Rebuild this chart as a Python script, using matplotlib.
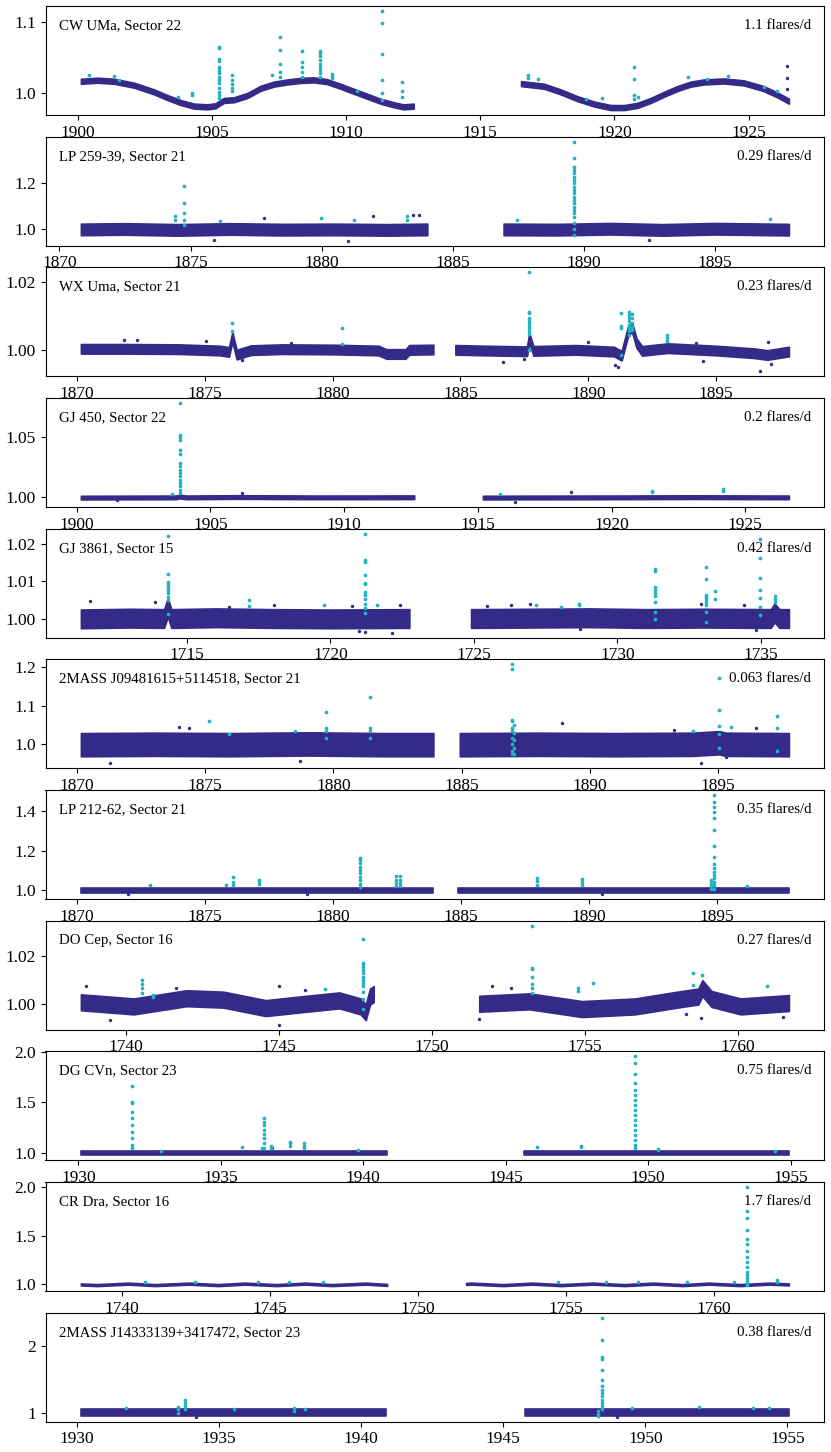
import matplotlib
matplotlib.use("Agg")
import matplotlib.pyplot as plt

plt.rcParams['font.family'] = ['Liberation Serif', 'DejaVu Serif']

PURPLE = '#352a87'
CYAN = '#1fb3c0'

# ---------------------------------------------------------------- CW UMa
cw_names = ("CW UMa, Sector 22", "1.1 flares/d")
cw_orbit1 = [(1900.12, 1.016), (1900.74, 1.0175), (1901.36, 1.016), (1902.11, 1.0104),
             (1902.85, 1.001), (1903.35, 0.993), (1903.84, 0.986), (1904.34, 0.981),
             (1904.83, 0.980), (1905.14, 0.9815), (1905.27, 0.985), (1905.45, 0.989),
             (1905.82, 0.990), (1906.32, 0.996), (1906.81, 1.006), (1907.31, 1.012),
             (1907.8, 1.015), (1908.3, 1.0172), (1908.8, 1.018), (1909.29, 1.0155),
             (1909.79, 1.009), (1910.28, 1.002), (1910.78, 0.995), (1911.28, 0.988),
             (1911.77, 0.983), (1912.14, 0.980), (1912.52, 0.981)]
cw_orbit2 = [(1916.52, 1.0127), (1917.38, 1.009), (1918.0, 1.001), (1918.62, 0.9915),
             (1919.24, 0.984), (1919.86, 0.979), (1920.36, 0.979), (1920.85, 0.982),
             (1921.35, 0.989), (1921.84, 0.9976), (1922.34, 1.0057), (1922.84, 1.012),
             (1923.33, 1.015), (1924.07, 1.0165), (1924.82, 1.0137), (1925.56, 1.0057),
             (1926.06, 0.997), (1926.5, 0.988)]
cw_noise = 0.0035
cw_flares = [(1900.43, [1.0245]), (1901.36, [1.023]), (1901.55, [1.0175]),
             (1903.72, [0.994]), (1904.27, [1.0, 0.996]),
             (1905.27, [1.0637, 1.0623, 1.048, 1.044, 1.036, 1.034, 1.031, 1.027, 1.022,
                        1.0175, 1.013, 1.007, 1.001, 0.996, 0.992]),
             (1905.76, [1.0245, 1.018, 1.0127, 1.007, 1.002]),
             (1907.25, [1.0245]),
             (1907.53, [1.0788, 1.060, 1.041, 1.029, 1.022]),
             (1908.36, [1.059, 1.0425, 1.036, 1.029, 1.0225]),
             (1909.02, [1.059, 1.0555, 1.051, 1.046, 1.041, 1.036, 1.032, 1.027, 1.0215]),
             (1909.46, [1.0265, 1.0235, 1.0205]), (1910.4, [1.003]),
             (1911.34, [1.115, 1.0987, 1.054, 1.0175, 0.9995, 0.989]),
             (1912.08, [1.0146, 1.003, 0.994]),
             (1916.79, [1.0245, 1.02]), (1917.14, [1.0198]), (1918.93, [0.9915]),
             (1919.52, [0.993]), (1920.71, [1.036, 1.0198, 0.996, 0.9915]),
             (1920.86, [0.994]), (1922.75, [1.022]), (1923.46, [1.0198]),
             (1924.24, [1.0233]), (1925.57, [1.008]), (1926.06, [1.003])]
cw_outliers = [(1926.43, 1.0378), (1926.43, 1.021), (1926.43, 1.0057)]
cw_xticks = [1900, 1905, 1910, 1915, 1920, 1925]
cw_yticks = [1.0, 1.1]
cw_ylabels = ["1.0", "1.1"]

# ---------------------------------------------------------------- LP 259-39
lp259_names = ("LP 259-39, Sector 21", "0.29 flares/d")
lp259_orbit1 = [(1870.82, 1.0), (1872.5, 1.002), (1874.5, 0.998), (1876.5, 1.002),
                (1878.5, 0.999), (1880.5, 1.0), (1882.5, 0.998), (1884.03, 1.0)]
lp259_orbit2 = [(1886.94, 1.0), (1889.0, 0.999), (1891.0, 1.003), (1893.0, 0.998),
                (1895.0, 1.003), (1897.82, 0.999)]
lp259_noise = 0.025
lp259_flares = [(1874.75, [1.19, 1.116, 1.07, 1.041, 1.019]), (1874.42, [1.059, 1.041]),
                (1876.13, [1.038]), (1879.96, [1.048]), (1881.23, [1.043]),
                (1883.25, [1.058, 1.04]), (1887.44, [1.04]),
                (1889.62, [1.381, 1.312, 1.272, 1.258, 1.243, 1.229, 1.214, 1.2, 1.186,
                           1.171, 1.156, 1.142, 1.128, 1.113, 1.099, 1.084, 1.07, 1.055,
                           1.03, 1.0, 0.975]),
                (1897.09, [1.045])]
lp259_outliers = [(1877.81, 1.051), (1881.96, 1.058), (1883.48, 1.062), (1883.73, 1.062),
                  (1875.9, 0.953), (1881.0, 0.951), (1892.5, 0.954)]
lp259_xticks = [1870, 1875, 1880, 1885, 1890, 1895]
lp259_yticks = [1.0, 1.2]
lp259_ylabels = ["1.0", "1.2"]

# ---------------------------------------------------------------- WX UMa
wx_names = ("WX Uma, Sector 21", "0.23 flares/d")
wx_orbit1 = [(1870.16, 1.0003), (1872.0, 1.0003), (1874.0, 1.0002), (1875.6, 0.9998),
             (1875.95, 0.9994), (1876.08, 1.0038), (1876.25, 0.9986), (1876.5, 0.9992),
             (1876.8, 0.9999), (1878.0, 1.0002), (1880.0, 1.0001), (1881.8, 0.9998),
             (1882.1, 0.9988), (1882.85, 0.9988), (1883.0, 1.0), (1883.94, 1.0001)]
wx_orbit2 = [(1884.8, 1.0), (1886.0, 0.9998), (1887.6, 0.9996), (1887.69, 1.0035),
             (1887.85, 0.9997), (1889.5, 1.0), (1891.0, 0.9995), (1891.3, 0.9983),
             (1891.57, 1.006), (1891.71, 1.0065), (1891.88, 1.002), (1892.1, 0.9997),
             (1893.1, 1.0005), (1895.0, 0.9998), (1896.5, 0.999), (1897.0, 0.9985),
             (1897.84, 0.9995)]
wx_noise = 0.0014
wx_flares = [(1876.08, [1.0078, 1.0054]), (1880.35, [1.0065, 1.0017]),
             (1887.69, [1.0227, 1.0112, 1.0107, 1.0093, 1.0085, 1.0078, 1.007, 1.0063,
                        1.0054, 1.0046, 0.9999]),
             (1891.26, [1.0107, 1.0071, 1.0063, 0.9985]),
             (1891.57, [1.0112, 1.0102, 1.0093, 1.0083, 1.0073, 1.0063, 1.0054, 1.0044]),
             (1891.71, [1.0105, 1.0093, 1.0078, 1.0068, 1.0059]),
             (1893.09, [1.0044, 1.0036, 1.0026])]
wx_outliers = [(1871.86, 1.0028), (1872.37, 1.003), (1875.05, 1.0026), (1878.37, 1.002),
               (1890.0, 1.0022), (1894.19, 1.002), (1897.01, 1.0022), (1886.66, 0.9964),
               (1891.03, 0.9956), (1891.15, 0.9951), (1894.5, 0.9966), (1896.72, 0.9937),
               (1897.13, 0.9958), (1876.45, 0.9971), (1887.48, 0.9974)]
wx_xticks = [1870, 1875, 1880, 1885, 1890, 1895]
wx_yticks = [1.00, 1.02]
wx_ylabels = ["1.00", "1.02"]

# ---------------------------------------------------------------- GJ 450
gj450_names = ("GJ 450, Sector 22", "0.2 flares/d")
gj450_orbit1 = [(1900.16, 0.9998), (1903.7, 1.0), (1903.87, 1.0006), (1904.1, 1.0),
                (1906.0, 1.0003), (1909.0, 1.0), (1912.62, 1.0001)]
gj450_orbit2 = [(1915.19, 0.9998), (1916.5, 0.9999), (1920.0, 1.0), (1923.0, 1.0002),
                (1926.63, 1.0)]
gj450_noise = 0.0015
gj450_flares = [(1903.87, [1.0786, 1.0522, 1.05, 1.0481, 1.0397, 1.0361, 1.0286, 1.0258,
                           1.0231, 1.0203, 1.0175, 1.0147, 1.0119, 1.0092, 1.0064, 1.0036]),
                (1903.55, [1.0028]), (1915.84, [1.0028]), (1921.5, [1.0056, 1.0042]),
                (1924.18, [1.0069, 1.0056])]
gj450_outliers = [(1918.5, 1.0042), (1906.17, 1.0033), (1916.4, 0.9961), (1901.5, 0.9975)]
gj450_xticks = [1900, 1905, 1910, 1915, 1920, 1925]
gj450_yticks = [1.00, 1.05]
gj450_ylabels = ["1.00", "1.05"]

# ---------------------------------------------------------------- GJ 3861
gj3861_names = ("GJ 3861, Sector 15", "0.42 flares/d")
gj3861_orbit1 = [(1711.3, 0.9999), (1713.0, 1.0001), (1714.2, 1.0), (1714.33, 1.003),
                 (1714.45, 1.0), (1716.0, 1.0002), (1718.0, 1.0), (1720.0, 0.9999),
                 (1722.75, 1.0)]
gj3861_orbit2 = [(1724.9, 1.0), (1727.0, 1.0001), (1729.0, 1.0002), (1731.0, 1.0),
                 (1733.0, 1.0001), (1735.35, 1.0), (1735.48, 1.0015), (1735.65, 1.0),
                 (1735.98, 1.0)]
gj3861_noise = 0.0025
gj3861_flares = [(1714.33, [1.0222, 1.012, 1.0098, 1.0091, 1.0084, 1.008, 1.0074, 1.0067,
                            1.0058, 1.0049, 1.0013]),
                 (1717.15, [1.0049, 1.0034]), (1719.76, [1.0036]),
                 (1721.22, [1.0227, 1.0156, 1.0151, 1.0116, 1.0096, 1.0091, 1.0071, 1.0062,
                            1.0053, 1.004, 1.0027, 1.0016]),
                 (1721.62, [1.0037]), (1727.15, [1.0037]), (1728.02, [1.0031]),
                 (1728.66, [1.004, 1.0036]),
                 (1731.3, [1.0132, 1.0126, 1.0084, 1.0076, 1.0067, 1.006, 1.0044, 1.0018, 1.0]),
                 (1733.09, [1.0138, 1.0107, 1.0062, 1.0058, 1.0052, 1.0044, 1.0037, 1.0018,
                            0.9991]),
                 (1733.41, [1.0074, 1.0053]),
                 (1734.97, [1.0212, 1.0163, 1.0109, 1.0077, 1.0055, 1.0031, 1.0009]),
                 (1735.48, [1.0061, 1.0053, 1.0043])]
gj3861_outliers = [(1711.63, 1.0046), (1713.89, 1.0043), (1716.45, 1.0031), (1718.02, 1.0037),
                   (1720.75, 1.0033), (1722.44, 1.0036), (1720.99, 0.9966), (1721.22, 0.9964),
                   (1722.15, 0.9962), (1725.46, 1.0034), (1726.28, 1.0036), (1726.97, 1.0038),
                   (1732.9, 1.0039), (1734.41, 1.0037), (1734.82, 0.9968), (1728.7, 0.9972)]
gj3861_xticks = [1715, 1720, 1725, 1730, 1735]
gj3861_yticks = [1.00, 1.01, 1.02]
gj3861_ylabels = ["1.00", "1.01", "1.02"]

# ---------------------------------------------------------------- 2MASS J0948
j0948_names = ("2MASS J09481615+5114518, Sector 21", "0.063 flares/d")
j0948_orbit1 = [(1870.16, 0.999), (1873.0, 1.0), (1876.0, 0.999), (1879.0, 1.001),
                (1882.0, 0.999), (1883.9, 0.999)]
j0948_orbit2 = [(1884.93, 0.999), (1888.0, 1.0), (1891.0, 0.999), (1894.0, 1.0),
                (1895.04, 1.004), (1895.3, 1.0), (1897.76, 0.999)]
j0948_noise = 0.03
j0948_flares = [(1875.16, [1.0596]), (1875.92, [1.0272]), (1878.49, [1.034]),
                (1879.72, [1.0834, 1.041, 1.034, 1.017]),
                (1881.43, [1.1234, 1.041, 1.034, 1.017]),
                (1886.98, [1.2068, 1.194, 1.064, 1.0596, 1.0426, 1.034, 1.017, 1.0, 0.983,
                           0.974]),
                (1887.06, [1.05, 1.03, 1.01, 0.99, 0.975]), (1894.01, [1.034]),
                (1895.04, [1.1719, 1.0894, 1.0468, 1.0255, 0.9915]), (1895.51, [1.044]),
                (1897.3, [1.074, 1.0426, 0.983])]
j0948_outliers = [(1873.97, 1.0443), (1874.38, 1.0426), (1888.93, 1.0553), (1893.29, 1.0366),
                  (1896.48, 1.0426), (1871.3, 0.9523), (1878.7, 0.9574), (1894.32, 0.9506),
                  (1895.29, 0.966)]
j0948_xticks = [1870, 1875, 1880, 1885, 1890, 1895]
j0948_yticks = [1.0, 1.1, 1.2]
j0948_ylabels = ["1.0", "1.1", "1.2"]

# ---------------------------------------------------------------- LP 212-62
lp212_names = ("LP 212-62, Sector 21", "0.35 flares/d")
lp212_orbit1 = [(1870.16, 1.0), (1877.0, 1.0), (1883.9, 1.0)]
lp212_orbit2 = [(1884.9, 1.0), (1891.0, 1.0), (1897.8, 1.0)]
lp212_noise = 0.014
lp212_flares = [(1872.84, [1.0255]), (1875.82, [1.0255]), (1876.09, [1.068, 1.0426, 1.0255]),
                (1877.1, [1.054, 1.046, 1.034]),
                (1881.07, [1.165, 1.153, 1.136, 1.119, 1.102, 1.085, 1.068, 1.051, 1.034,
                           1.017]),
                (1882.47, [1.0715, 1.054, 1.037, 1.022]),
                (1882.63, [1.0715, 1.054, 1.037, 1.022]),
                (1887.96, [1.0596, 1.046, 1.029]), (1889.71, [1.056, 1.043, 1.026]),
                (1894.86, [1.48, 1.4426, 1.4204, 1.3949, 1.366, 1.3013, 1.2213, 1.1685,
                           1.131, 1.1106, 1.0936, 1.0766, 1.0596, 1.0426, 1.0255, 1.0085]),
                (1894.75, [1.05, 1.035, 1.02, 1.005]), (1896.15, [1.022])]
lp212_outliers = [(1872.0, 0.981), (1890.5, 0.982), (1879.0, 0.983)]
lp212_xticks = [1870, 1875, 1880, 1885, 1890, 1895]
lp212_yticks = [1.0, 1.2, 1.4]
lp212_ylabels = ["1.0", "1.2", "1.4"]

# ---------------------------------------------------------------- DO Cep
docep_names = ("DO Cep, Sector 16", "0.27 flares/d")
docep_orbit1 = [(1738.53, 1.0006), (1740.26, 0.9989), (1741.98, 1.0023), (1743.19, 1.0017),
                (1744.57, 0.9982), (1745.6, 0.9996), (1746.98, 1.0014), (1747.67, 0.9989),
                (1747.84, 0.9965), (1747.98, 1.003), (1748.1, 1.004)]
docep_orbit2 = [(1751.55, 1.0), (1753.19, 1.001), (1754.91, 0.9978), (1756.64, 0.9989),
                (1758.02, 1.0017), (1758.71, 1.003), (1758.84, 1.0065), (1759.14, 1.002),
                (1760.09, 0.9989), (1761.67, 1.0003)]
docep_noise = 0.0033
docep_flares = [(1740.52, [1.0099, 1.0083, 1.0065, 1.0044]), (1740.9, [1.0037, 1.003]),
                (1746.52, [1.006]),
                (1747.76, [1.0267, 1.0171, 1.0165, 1.0154, 1.0141, 1.0127, 1.0113, 1.0099,
                           1.0086, 1.0072, 1.005, 1.002, 0.998]),
                (1753.28, [1.0324, 1.0148, 1.0143, 1.0113, 1.0083, 1.0065, 1.0044]),
                (1754.79, [1.0065, 1.0051]), (1755.26, [1.0088]),
                (1758.53, [1.0127, 1.0079]), (1758.84, [1.012]), (1760.95, [1.0072])]
docep_outliers = [(1738.71, 1.0072), (1741.64, 1.0065), (1745.0, 1.0072), (1745.86, 1.0058),
                  (1751.98, 1.0072), (1752.59, 1.0065), (1739.48, 0.9934), (1745.0, 0.9913),
                  (1751.55, 0.9937), (1758.31, 0.9959), (1758.79, 0.9943), (1761.47, 0.9945)]
docep_xticks = [1740, 1745, 1750, 1755, 1760]
docep_yticks = [1.00, 1.02]
docep_ylabels = ["1.00", "1.02"]

# ---------------------------------------------------------------- DG CVn
dgcvn_names = ("DG CVn, Sector 23", "0.75 flares/d")
dgcvn_orbit1 = [(1930.09, 1.0), (1935.5, 1.0), (1940.83, 1.0)]
dgcvn_orbit2 = [(1945.65, 1.0), (1950.3, 1.0), (1954.94, 1.0)]
dgcvn_noise = 0.022
dgcvn_flares = [(1931.89, [1.6656, 1.508, 1.498, 1.41, 1.344, 1.279, 1.213, 1.148, 1.082,
                           1.049]),
                (1932.91, [1.026]), (1935.74, [1.056]), (1936.43, [1.049]),
                (1936.52, [1.351, 1.311, 1.279, 1.23, 1.187, 1.148, 1.098, 1.049]),
                (1936.76, [1.066, 1.049]), (1937.44, [1.115, 1.098, 1.075]),
                (1937.93, [1.098, 1.075, 1.049]), (1939.81, [1.033]),
                (1946.11, [1.056]), (1947.63, [1.072, 1.056]),
                (1949.54, [1.955, 1.885, 1.780, 1.689, 1.623, 1.574, 1.525, 1.475, 1.426,
                           1.377, 1.328, 1.279, 1.23, 1.18, 1.131, 1.082, 1.049]),
                (1950.33, [1.043, 1.033]), (1954.44, [1.02])]
dgcvn_outliers = [(1936.8, 1.05)]
dgcvn_xticks = [1930, 1935, 1940, 1945, 1950, 1955]
dgcvn_yticks = [1.0, 1.5, 2.0]
dgcvn_ylabels = ["1.0", "1.5", "2.0"]

# ---------------------------------------------------------------- CR Dra
crdra_names = ("CR Dra, Sector 16", "1.7 flares/d")
crdra_orbit1 = [(1738.6, 1.0), (1739.14, 0.993), (1740.21, 1.008), (1741.1, 0.993),
                (1742.26, 1.008), (1743.24, 0.993), (1744.14, 1.008), (1745.2, 0.993),
                (1746.19, 1.008), (1747.08, 0.993), (1748.24, 1.008), (1748.95, 0.995)]
crdra_orbit2 = [(1751.62, 1.005), (1751.8, 1.008), (1752.87, 0.993), (1753.85, 1.008),
                (1754.83, 0.993), (1755.9, 1.008), (1756.97, 0.993), (1757.95, 1.008),
                (1758.93, 0.993), (1759.82, 1.008), (1760.89, 0.993), (1761.87, 1.008),
                (1762.53, 1.0)]
crdra_noise = 0.01
crdra_flares = [(1761.12, [2.0, 1.751, 1.683, 1.556, 1.471, 1.41, 1.341, 1.283, 1.232, 1.181,
                           1.13, 1.096, 1.061, 1.034, 1.01, 0.99]),
                (1762.14, [1.044, 1.027]), (1740.75, [1.02]), (1742.44, [1.027]),
                (1744.58, [1.02]), (1745.65, [1.02]), (1746.77, [1.02]), (1754.71, [1.027]),
                (1756.35, [1.027]), (1757.42, [1.02]), (1759.07, [1.02]), (1760.68, [1.02])]
crdra_outliers = []
crdra_xticks = [1740, 1745, 1750, 1755, 1760]
crdra_yticks = [1.0, 1.5, 2.0]
crdra_ylabels = ["1.0", "1.5", "2.0"]

# ---------------------------------------------------------------- 2MASS J1433
j1433_names = ("2MASS J14333139+3417472, Sector 23", "0.38 flares/d")
j1433_orbit1 = [(1930.15, 1.0), (1935.5, 1.0), (1940.87, 1.0)]
j1433_orbit2 = [(1945.77, 1.0), (1950.4, 1.0), (1955.05, 1.0)]
j1433_noise = 0.05
j1433_flares = [(1931.73, [1.074]), (1933.58, [1.089, 1.05, 1.0]),
                (1933.8, [1.198, 1.149, 1.099, 1.05]), (1935.53, [1.059]),
                (1937.63, [1.074, 1.03]), (1938.03, [1.059]),
                (1948.48, [2.426, 2.089, 1.832, 1.802, 1.644, 1.495, 1.396, 1.347, 1.297,
                           1.248, 1.198, 1.149, 1.099, 1.05]),
                (1948.35, [1.03, 0.98, 0.95]), (1949.54, [1.074]), (1951.9, [1.089]),
                (1953.8, [1.074]), (1954.36, [1.074])]
j1433_outliers = [(1934.2, 0.94), (1949.0, 0.942)]
j1433_xticks = [1930, 1935, 1940, 1945, 1950, 1955]
j1433_yticks = [1, 2]
j1433_ylabels = ["1", "2"]


panels = [
    (cw_names, [cw_orbit1, cw_orbit2], cw_noise, cw_flares, cw_outliers,
     cw_xticks, cw_yticks, cw_ylabels),
    (lp259_names, [lp259_orbit1, lp259_orbit2], lp259_noise, lp259_flares, lp259_outliers,
     lp259_xticks, lp259_yticks, lp259_ylabels),
    (wx_names, [wx_orbit1, wx_orbit2], wx_noise, wx_flares, wx_outliers,
     wx_xticks, wx_yticks, wx_ylabels),
    (gj450_names, [gj450_orbit1, gj450_orbit2], gj450_noise, gj450_flares, gj450_outliers,
     gj450_xticks, gj450_yticks, gj450_ylabels),
    (gj3861_names, [gj3861_orbit1, gj3861_orbit2], gj3861_noise, gj3861_flares,
     gj3861_outliers, gj3861_xticks, gj3861_yticks, gj3861_ylabels),
    (j0948_names, [j0948_orbit1, j0948_orbit2], j0948_noise, j0948_flares, j0948_outliers,
     j0948_xticks, j0948_yticks, j0948_ylabels),
    (lp212_names, [lp212_orbit1, lp212_orbit2], lp212_noise, lp212_flares, lp212_outliers,
     lp212_xticks, lp212_yticks, lp212_ylabels),
    (docep_names, [docep_orbit1, docep_orbit2], docep_noise, docep_flares, docep_outliers,
     docep_xticks, docep_yticks, docep_ylabels),
    (dgcvn_names, [dgcvn_orbit1, dgcvn_orbit2], dgcvn_noise, dgcvn_flares, dgcvn_outliers,
     dgcvn_xticks, dgcvn_yticks, dgcvn_ylabels),
    (crdra_names, [crdra_orbit1, crdra_orbit2], crdra_noise, crdra_flares, crdra_outliers,
     crdra_xticks, crdra_yticks, crdra_ylabels),
    (j1433_names, [j1433_orbit1, j1433_orbit2], j1433_noise, j1433_flares, j1433_outliers,
     j1433_xticks, j1433_yticks, j1433_ylabels),
]


def draw_panel(ax, names, orbits, noise, flares, outliers, xticks, yticks, ylabels):
    # quiescent light curve as a band around the trend
    for orbit in orbits:
        t = [k[0] for k in orbit]
        f = [k[1] for k in orbit]
        ax.fill_between(t, [v - noise for v in f], [v + noise for v in f],
                        facecolor=PURPLE, edgecolor=PURPLE, lw=1.2, zorder=1)
    if outliers:
        ax.scatter([p[0] for p in outliers], [p[1] for p in outliers],
                   s=6, color=PURPLE, lw=0, zorder=2)
    # flare candidates
    for t, vals in flares:
        ax.scatter([t] * len(vals), vals, s=7, color=CYAN, lw=0, zorder=3)

    ax.set_xticks(xticks)
    ax.set_yticks(yticks)
    ax.set_yticklabels(ylabels)
    ax.tick_params(labelsize=12.5)
    ax.text(0.017, 0.82, names[0], transform=ax.transAxes, fontsize=10.7, va='center')
    ax.text(0.983, 0.82, names[1], transform=ax.transAxes, fontsize=10.7, va='center',
            ha='right')


W, H = 831, 1452
fig = plt.figure(figsize=(W / 100, H / 100), dpi=100)
for i, p in enumerate(panels):
    top = 6 + 130.67 * i
    ax = fig.add_axes([45.5 / W, 1 - (top + 109) / H, 778.8 / W, 109 / H])
    draw_panel(ax, *p)

fig.savefig("out.png", dpi=100)
